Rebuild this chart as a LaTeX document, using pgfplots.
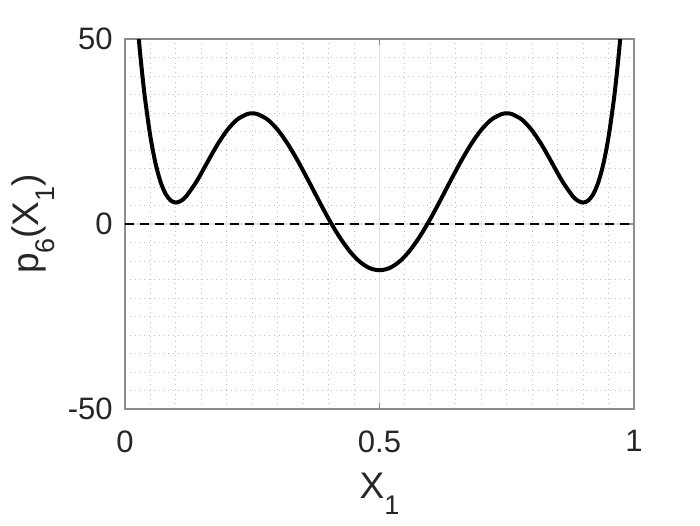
\documentclass[border=0pt]{standalone}
\usepackage{pgfplots}
\pgfplotsset{compat=1.18}
\usepackage{fontspec}
\setmainfont{Liberation Sans}
\definecolor{txt}{gray}{0.15}
\definecolor{axln}{gray}{0.55}
\newcommand{\sub}[1]{\raisebox{-8pt}{\fontsize{13.5}{15}\selectfont #1}}

\begin{document}
\begin{tikzpicture}
\useasboundingbox (-62.5pt,-58pt) rectangle (287.5pt,204.5pt);
\begin{axis}[
    at={(0,0)}, anchor=south west,
    scale only axis, width=254.5pt, height=185pt,
    xmin=0, xmax=1, ymin=-50, ymax=50,
    xtick={0,0.5,1}, xticklabels={0,0.5,1},
    ytick={-50,0,50}, yticklabels={-50,0,50},
    minor x tick num=9, minor y tick num=9,
    grid=both,
    major grid style={gray!22, line width=0.6pt},
    minor grid style={gray!50, dotted, line width=0.5pt},
    axis line style={axln, line width=1pt},
    tick align=inside,
    major tick length=3pt, minor tick length=0pt,
    tick style={axln, line width=0.8pt},
    tick label style={text=txt, font=\fontsize{15.5}{18}\selectfont, inner sep=0pt},
    xticklabel style={anchor=north},
    yticklabel style={anchor=east},
    xticklabel shift=10.5pt,
    yticklabel shift=6pt,
    label style={text=txt, font=\fontsize{18.5}{22}\selectfont, inner sep=0pt},
    xlabel={X\sub{1}},
    ylabel={p\sub{6}(X\sub{1})},
    xlabel style={at={([yshift=-32pt]axis description cs:0.5,0)}, anchor=north},
    ylabel style={at={([xshift=-35pt]axis description cs:0,0.5)}, anchor=south},
]
% zero reference line
\addplot[black, line width=1.2pt, dash pattern=on 4.5pt off 3pt] coordinates {(0,0) (1,0)};
% p6 curve
\addplot[black, line width=2pt, smooth] coordinates {
 (0.025,53.25) (0.03,45.76) (0.035,39.09) (0.04,33.20) (0.05,23.53)
 (0.06,16.36) (0.07,11.32) (0.08,8.08) (0.09,6.34) (0.10,5.80)
 (0.11,6.26) (0.12,7.46) (0.14,11.37) (0.16,16.24) (0.18,21.10)
 (0.20,25.23) (0.22,28.19) (0.24,29.71) (0.25,29.90) (0.26,29.71)
 (0.28,28.24) (0.30,25.46) (0.32,21.59) (0.34,16.93) (0.36,11.80)
 (0.38,6.52) (0.40,1.42) (0.42,-3.21) (0.44,-7.11) (0.46,-10.05)
 (0.48,-11.88) (0.50,-12.50)
 (0.52,-11.88) (0.54,-10.05) (0.56,-7.11) (0.58,-3.21) (0.60,1.42)
 (0.62,6.52) (0.64,11.80) (0.66,16.93) (0.68,21.59) (0.70,25.46)
 (0.72,28.24) (0.74,29.71) (0.75,29.90) (0.76,29.71) (0.78,28.19)
 (0.80,25.23) (0.82,21.10) (0.84,16.24) (0.86,11.37) (0.88,7.46)
 (0.89,6.26) (0.90,5.80) (0.91,6.34) (0.92,8.08) (0.93,11.32)
 (0.94,16.36) (0.95,23.53) (0.96,33.20) (0.965,39.09) (0.97,45.76)
 (0.975,53.25)
};
\end{axis}
\end{tikzpicture}
\end{document}
